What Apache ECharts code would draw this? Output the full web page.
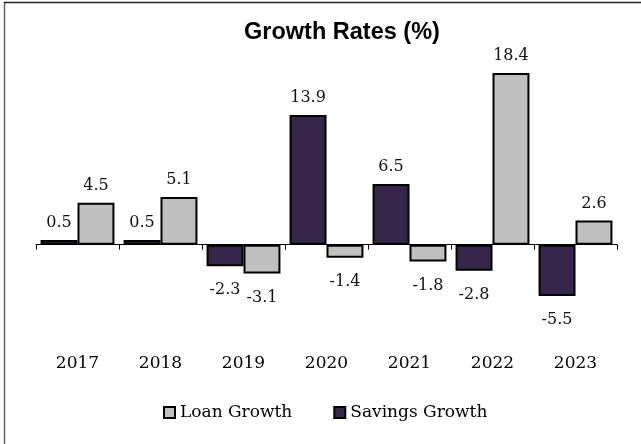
<!DOCTYPE html>
<html>
<head>
<meta charset="utf-8">
<script src="https://cdn.jsdelivr.net/npm/echarts@6/dist/echarts.min.js"></script>
<style>
  html, body { margin: 0; padding: 0; background: #fff; }
  #chart { width: 641px; height: 444px; }
</style>
</head>
<body>
<div id="chart"></div>
<script>
// Annual growth rates, percent
const years = ['2017', '2018', '2019', '2020', '2021', '2022', '2023'];
const savingsGrowth = [0.5, 0.5, -2.3, 13.9, 6.5, -2.8, -5.5];
const loanGrowth = [4.5, 5.1, -3.1, -1.4, -1.8, 18.4, 2.6];

const serif = 'DejaVu Serif';
const labelStyle = {
  show: true,
  fontFamily: serif,
  fontSize: 16,
  color: '#111',
  distance: 9,
  position: 'top'
};

// Positive values are labelled above the bar, negative ones below it
function barData(values) {
  return values.map(v => ({
    value: v,
    label: { position: v < 0 ? 'bottom' : 'top', distance: v < 0 ? 16 : 9 }
  }));
}

const chart = echarts.init(document.getElementById('chart'), null, { renderer: 'canvas' });
chart.setOption({
  animation: false,
  backgroundColor: '#fff',
  title: {
    text: 'Growth Rates (%)',
    left: 239,
    top: 16,
    textStyle: { fontFamily: 'Liberation Sans', fontWeight: 'bold', fontSize: 23.5, color: '#000' }
  },
  legend: {
    data: ['Loan Growth', 'Savings Growth'],
    left: 158,
    top: 399,
    icon: 'rect',
    itemWidth: 11,
    itemHeight: 11,
    itemGap: 41,
    textStyle: { fontFamily: serif, fontSize: 17, color: '#000' }
  },
  grid: { left: 36, right: 24, top: 58, height: 280 },
  xAxis: [
    {
      type: 'category',
      data: years,
      axisLine: { onZero: true, lineStyle: { color: '#000', width: 1 } },
      axisTick: { show: true, length: 5, lineStyle: { color: '#000' } },
      axisLabel: { show: false }
    },
    {
      type: 'category',
      data: years,
      position: 'bottom',
      axisLine: { show: false, onZero: false },
      axisTick: { show: false },
      axisLabel: { fontFamily: serif, fontSize: 17, color: '#000', margin: 17 }
    }
  ],
  yAxis: {
    type: 'value',
    min: -10,
    max: 20,
    show: false,
    splitLine: { show: false }
  },
  series: [
    {
      name: 'Savings Growth',
      type: 'bar',
      data: barData(savingsGrowth),
      barGap: '0%',
      barCategoryGap: '11%',
      itemStyle: { color: '#36274a', borderColor: '#000', borderWidth: 2 },
      label: labelStyle
    },
    {
      name: 'Loan Growth',
      type: 'bar',
      data: barData(loanGrowth),
      barGap: '0%',
      barCategoryGap: '11%',
      itemStyle: { color: '#c0c0c0', borderColor: '#000', borderWidth: 2 },
      label: labelStyle
    }
  ],
  graphic: [
    {
      type: 'line',
      shape: { x1: 4.5, y1: 2, x2: 4.5, y2: 444 },
      style: { stroke: '#666', lineWidth: 1.5 },
      silent: true
    },
    {
      type: 'line',
      shape: { x1: 4, y1: 2.5, x2: 641, y2: 2.5 },
      style: { stroke: '#222', lineWidth: 1.5 },
      silent: true
    }
  ]
});
</script>
</body>
</html>
